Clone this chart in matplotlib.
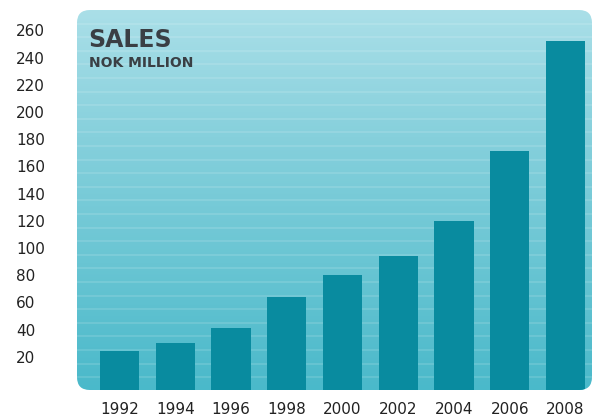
import numpy as np
import matplotlib
matplotlib.use("Agg")
import matplotlib.pyplot as plt
from matplotlib.patches import FancyBboxPatch
from matplotlib.colors import LinearSegmentedColormap

years = ["1992", "1994", "1996", "1998", "2000", "2002", "2004", "2006", "2008"]
sales = [24, 30, 41, 64, 80, 94, 120, 171, 252]
ytick_vals = [20, 40, 60, 80, 100, 120, 140, 160, 180, 200, 220, 240, 260]

fig = plt.figure(figsize=(5.92, 4.20), dpi=100)
W, H = 592, 420
# panel in pixels: left 77, right 592, top 10, bottom 390
ax = fig.add_axes([77 / W, (H - 390) / H, (592 - 77) / W, (390 - 10) / H])
ymin, ymax = -4.4, 275
xmin, xmax = -0.762, 8.475
ax.set_xlim(xmin, xmax)
ax.set_ylim(ymin, ymax)
for s in ax.spines.values():
    s.set_visible(False)
ax.patch.set_alpha(0)

# rounded panel
panel = FancyBboxPatch((0.0, 0.0), 1.0, 1.0, boxstyle="round,pad=0,rounding_size=0.025",
                       transform=ax.transAxes, facecolor="none", edgecolor="none",
                       mutation_aspect=515 / 380)
ax.add_patch(panel)
cmap = LinearSegmentedColormap.from_list("bg", ["#4ab9ca", "#69c5d3", "#86d0dc", "#aadfe8"])
grad = np.linspace(0, 1, 256).reshape(-1, 1)
im = ax.imshow(grad, aspect="auto", cmap=cmap, origin="lower",
               extent=[xmin, xmax, ymin, ymax], zorder=0)
im.set_clip_path(panel)

# faint stripes
for yv in np.arange(5, 275, 10):
    ln = ax.axhline(yv, color="white", alpha=0.12, lw=1.5, zorder=1)
    ln.set_clip_path(panel)

x = np.arange(len(years))
bars = ax.bar(x, [v - ymin for v in sales], bottom=ymin, width=0.70,
              color="#098b9f", zorder=2)
for b in bars:
    b.set_clip_path(panel)

ax.set_xticks(x)
ax.set_xticklabels(years, fontsize=11, color="#222222", family="DejaVu Sans")
ax.set_yticks(ytick_vals)
ax.set_yticklabels([str(v) for v in ytick_vals], fontsize=11, color="#222222",
                   family="DejaVu Sans")
for lab in ax.get_yticklabels():
    lab.set_horizontalalignment("left")
ax.tick_params(axis="both", length=0)
ax.tick_params(axis="y", pad=(77 - 16) * 0.72)
ax.tick_params(axis="x", pad=9)

fig.text(88 / W, 1 - 40 / H, "SALES", fontsize=17, fontweight="bold", color="#3a3f44",
         va="center", ha="left", family="DejaVu Sans")
fig.text(89 / W, 1 - 63 / H, "NOK MILLION", fontsize=10, fontweight="bold", color="#3a3f44",
         va="center", ha="left", family="Liberation Sans Narrow")

fig.savefig("out.png", dpi=100)
